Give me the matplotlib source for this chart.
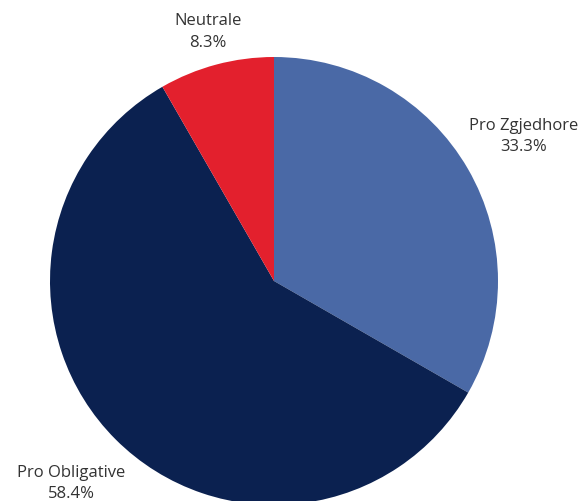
import numpy as np
import matplotlib
matplotlib.use("Agg")
import matplotlib.pyplot as plt

labels = ["Pro Zgjedhore", "Pro Obligative", "Neutrale"]
shares = [33.3, 58.4, 8.3]
colors = ["#4a69a6", "#0b2150", "#e3202d"]
label_dist = [1.29, 1.28, 1.15]

plt.rcParams['font.family'] = ['Open Sans', 'DejaVu Sans']

fig = plt.figure(figsize=(5.85, 5.01), dpi=100)
# pie spans x 50..498 px, y 57..505 px (bottom cut off by the figure edge)
ax = fig.add_axes([50 / 585, -4 / 501, 448 / 585, 448 / 501])
wedges, _ = ax.pie(shares, colors=colors, startangle=90, counterclock=False,
                   radius=1.0, wedgeprops=dict(linewidth=0))
ax.set_xlim(-1, 1)
ax.set_ylim(-1, 1)
ax.set_aspect('equal')
ax.axis('off')

for w, lab, val, d in zip(wedges, labels, shares, label_dist):
    ang = np.deg2rad((w.theta1 + w.theta2) / 2)
    x, y = d * np.cos(ang), d * np.sin(ang)
    ax.text(x, y, f"{lab}\n{val:.1f}%", ha='center', va='center',
            fontsize=12, color='#333333', linespacing=1.45, clip_on=False)

fig.savefig("out.png", dpi=100)
